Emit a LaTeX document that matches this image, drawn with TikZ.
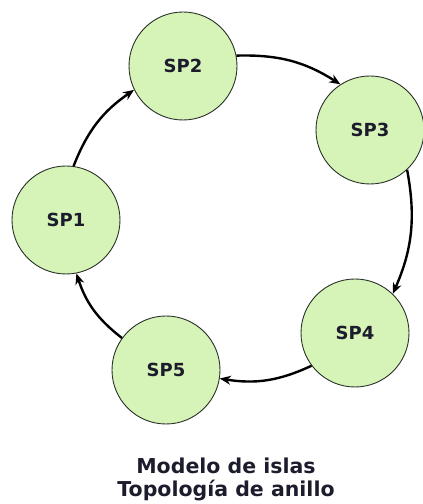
\documentclass[tikz,border=0pt]{standalone}
\usepackage{fontspec}
\setmainfont{DejaVu Sans}
\usetikzlibrary{arrows.meta}

\definecolor{islafill}{RGB}{214,244,184}
\definecolor{islaline}{RGB}{40,48,40}
\definecolor{rotulo}{RGB}{28,28,44}

\begin{document}
\begin{tikzpicture}[x=1pt, y=1pt,
	isla/.style={circle, minimum size=108pt, inner sep=0pt, fill=islafill,
        draw=islaline, line width=.9pt, font=\fontsize{18}{20}\selectfont\bfseries,
        text=rotulo},
	migra/.style={-{Stealth[length=11pt, width=9pt]}, line width=2.4pt, black,
        bend left=17}]
	\useasboundingbox (0, 0) rectangle (423, 504);
	\node (SP1) at (66, 284) [isla] {SP1};
	\node (SP2) at (183, 438) [isla] {SP2};
	\node (SP3) at (370, 374) [isla] {SP3};
	\node (SP4) at (355, 171) [isla] {SP4};
	\node (SP5) at (166, 134) [isla] {SP5};
	\draw [migra] (SP1.82) to (SP2.206);
	\draw [migra] (SP2.11) to (SP3.123);
	\draw [migra] (SP3.313) to (SP4.46);
	\draw [migra] (SP4.217) to (SP5.351);
	\draw [migra] (SP5.144) to (SP1.281);
	\node (titulo) at (226, 25) [align=center, text=rotulo,
        font=\fontsize{20.5}{23}\selectfont\bfseries] {Modelo de islas\\Topología de anillo};
\end{tikzpicture}
\end{document}
